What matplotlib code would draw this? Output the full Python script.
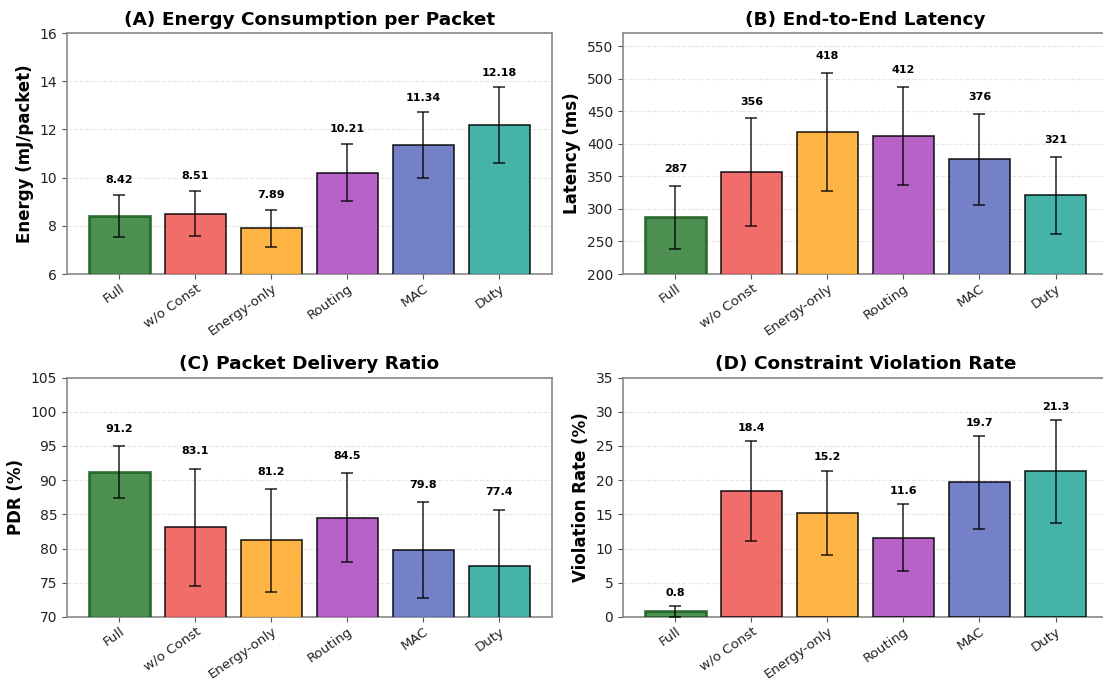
import matplotlib
matplotlib.use("Agg")
import matplotlib.pyplot as plt
import numpy as np

methods = ["Full", "w/o Const", "Energy-only", "Routing", "MAC", "Duty"]

energy_mean = [8.42, 8.51, 7.89, 10.21, 11.34, 12.18]
energy_err = [0.87, 0.93, 0.78, 1.19, 1.37, 1.57]

latency_mean = [287, 356, 418, 412, 376, 321]
latency_err = [48, 83, 91, 75, 70, 59]

pdr_mean = [91.2, 83.1, 81.2, 84.5, 79.8, 77.4]
pdr_err = [3.8, 8.6, 7.5, 6.5, 7.0, 8.3]

viol_mean = [0.8, 18.4, 15.2, 11.6, 19.7, 21.3]
viol_err = [0.8, 7.3, 6.2, 4.9, 6.8, 7.5]

colors = ["#2E7D32", "#EF5350", "#FFA726", "#AB47BC", "#5C6BC0", "#26A69A"]

panels = [
    dict(title="(A) Energy Consumption per Packet", ylabel="Energy (mJ/packet)",
         mean=energy_mean, err=energy_err, ylim=(6, 16), ticks=np.arange(6, 17, 2),
         fmt="{:.2f}", off=0.4, rect=[0.0607, 0.5994, 0.4397, 0.3523]),
    dict(title="(B) End-to-End Latency", ylabel="Latency (ms)",
         mean=latency_mean, err=latency_err, ylim=(200, 570), ticks=np.arange(200, 551, 50),
         fmt="{:.0f}", off=18, rect=[0.5648, 0.5994, 0.4397, 0.3523]),
    dict(title="(C) Packet Delivery Ratio", ylabel="PDR (%)",
         mean=pdr_mean, err=pdr_err, ylim=(70, 105), ticks=np.arange(70, 106, 5),
         fmt="{:.1f}", off=1.8, rect=[0.0607, 0.0980, 0.4397, 0.3500]),
    dict(title="(D) Constraint Violation Rate", ylabel="Violation Rate (%)",
         mean=viol_mean, err=viol_err, ylim=(0, 35), ticks=np.arange(0, 36, 5),
         fmt="{:.1f}", off=1.2, rect=[0.5648, 0.0980, 0.4397, 0.3500]),
]

fig = plt.figure(figsize=(11.03, 6.84), dpi=100)

x = np.arange(len(methods))
for p in panels:
    ax = fig.add_axes(p["rect"])
    bars = ax.bar(x, p["mean"], width=0.8, color=colors, alpha=0.85,
                  edgecolor="black", linewidth=1.2, zorder=3)
    bars[0].set_edgecolor("#1B5E20")
    bars[0].set_linewidth(2.0)
    ax.errorbar(x, p["mean"], yerr=p["err"], fmt="none", ecolor="black",
                elinewidth=1.2, capsize=4, capthick=1.2, alpha=0.8, zorder=4)
    for xi, m, e in zip(x, p["mean"], p["err"]):
        ax.text(xi, m + e + p["off"], p["fmt"].format(m), ha="center", va="bottom",
                fontsize=8, fontweight="bold", zorder=5)
    ax.set_ylim(*p["ylim"])
    ax.set_yticks(p["ticks"])
    ax.set_xlim(-0.69, 5.69)
    ax.set_xticks(x)
    ax.set_xticklabels(methods, rotation=35, ha="right", rotation_mode="anchor", fontsize=9.6)
    ax.tick_params(axis="x", pad=2)
    ax.tick_params(axis="y", labelsize=10)
    ax.tick_params(colors="#555555", labelcolor="#222222")
    ax.set_title(p["title"], fontsize=13.3, fontweight="bold")
    ax.set_ylabel(p["ylabel"], fontsize=12, fontweight="bold")
    ax.yaxis.grid(True, linestyle="--", alpha=0.3, zorder=0)
    ax.set_axisbelow(True)
    for s in ax.spines.values():
        s.set_color("#888888")
        s.set_linewidth(1.2)

fig.savefig("out.png", dpi=100)
